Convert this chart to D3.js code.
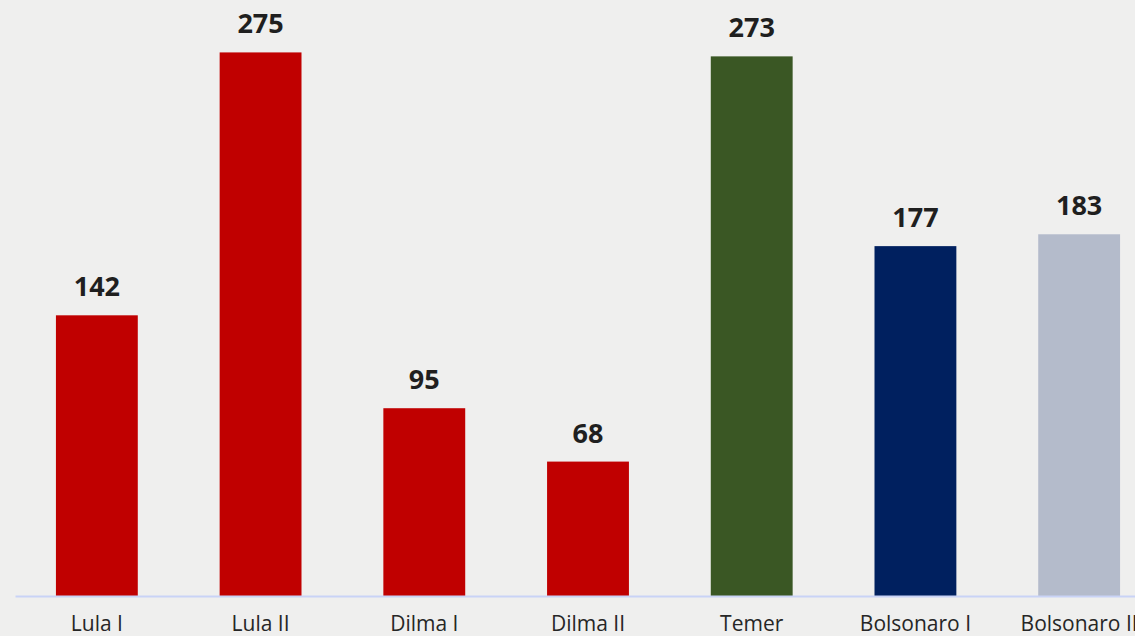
<!DOCTYPE html>
<html>
<head>
<meta charset="utf-8">
<script src="https://cdn.jsdelivr.net/npm/d3@7"></script>
<style>
  html, body { margin: 0; padding: 0; background: #efefee; overflow: hidden; }
  svg { display: block; }
</style>
</head>
<body>
<svg id="chart" width="1135" height="636"></svg>
<script>
// Governments and the value for each term
const governments = ["Lula I", "Lula II", "Dilma I", "Dilma II", "Temer", "Bolsonaro I", "Bolsonaro II"];
const values = [142, 275, 95, 68, 273, 177, 183];
const barColors = ["#c00000", "#c00000", "#c00000", "#c00000", "#3a5724", "#00205f", "#b4bbcb"];

const width = 1135, height = 636;
const svg = d3.select("#chart");

// The band range runs past the right edge, so the last label is cut off
const x = d3.scaleBand()
  .domain(governments)
  .range([15, 1161])
  .paddingInner(0.5)
  .paddingOuter(0.25);

const y = d3.scaleLinear()
  .domain([0, 300])
  .range([596, 3]);

const data = governments.map((g, i) => ({ name: g, value: values[i], color: barColors[i] }));

// Bars
svg.append("g")
  .selectAll("rect")
  .data(data)
  .join("rect")
  .attr("x", d => x(d.name))
  .attr("y", d => y(d.value))
  .attr("width", x.bandwidth())
  .attr("height", d => y(0) - y(d.value))
  .attr("fill", d => d.color);

// Baseline axis with category labels
const axis = svg.append("g")
  .attr("transform", `translate(0,${y(0)})`)
  .call(d3.axisBottom(x).tickSize(0).tickSizeOuter(0).tickPadding(0));

axis.select(".domain")
  .attr("stroke", "#c9d3f6")
  .attr("stroke-width", 2);

axis.selectAll("text")
  .attr("font-family", "'Open Sans', sans-serif")
  .attr("font-size", 21)
  .attr("fill", "#262626")
  .attr("y", 35)
  .attr("dy", null);

// Value labels above bars
svg.append("g")
  .selectAll("text")
  .data(data)
  .join("text")
  .attr("x", d => x(d.name) + x.bandwidth() / 2)
  .attr("y", d => y(d.value) - 19)
  .attr("text-anchor", "middle")
  .attr("font-family", "'Open Sans', sans-serif")
  .attr("font-weight", "bold")
  .attr("font-size", 27)
  .attr("fill", "#1f1f1f")
  .text(d => d.value);
</script>
</body>
</html>
